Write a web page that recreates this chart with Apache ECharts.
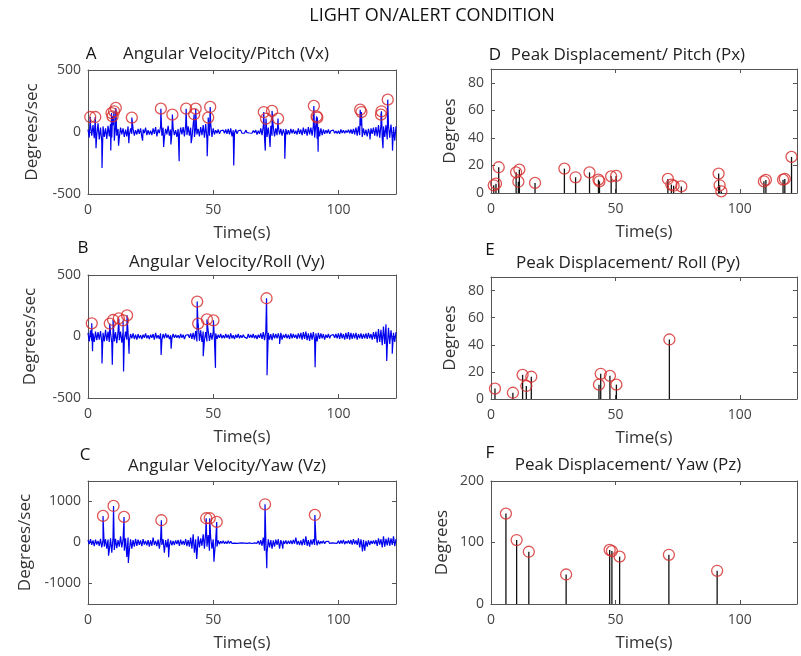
<!DOCTYPE html>
<html>
<head>
<meta charset="utf-8">
<script src="https://cdn.jsdelivr.net/npm/echarts@6/dist/echarts.min.js"></script>
<style>
  html, body { margin: 0; background: #fff; }
  #chart { width: 801px; height: 656px; }
</style>
</head>
<body>
<div id="chart"></div>
<script>
// sampling step of the traced velocity signals (s)
const STEP = 0.5;
const T_MAX = 123;

// Vx (pitch) background signal, one value per 0.5 s
const vxBase = [
  20,-45,60,-30,55,-50,40,-25,70,-60,
  35,-80,45,-40,30,-55,50,-35,65,-45,
  55,-70,40,-30,25,-45,35,-20,30,-40,
  20,-35,45,-25,30,-15,25,-30,15,-20,
  25,-15,30,-40,20,-10,35,-25,15,-20,
  10,-25,30,-15,40,-35,20,-10,45,-30,
  35,-45,25,-20,50,-30,20,-15,30,-25,
  15,-40,25,-30,35,-20,40,-35,55,-25,
  45,-30,35,-50,60,-40,30,-20,25,-35,
  40,-25,55,-45,65,-60,50,-30,70,-40,
  30,-20,15,-10,20,-15,10,-5,15,-10,
  20,-15,25,-20,30,-35,15,-10,20,-15,
  10,-5,15,-10,5,-10,15,-5,10,-8,
  8,-10,12,-5,15,-20,10,-15,30,-25,
  45,-50,60,-40,35,-55,50,-30,40,-35,
  30,-25,45,-20,25,-30,20,-15,25,-20,
  15,-20,25,-10,20,-15,10,-20,30,-15,
  20,-25,35,-15,25,-30,40,-20,35,-30,
  50,-45,60,-55,40,-35,30,-25,20,-15,
  15,-10,20,-15,10,-5,15,-10,8,-12,
  10,-15,20,-8,15,-10,12,-5,18,-10,
  20,-15,25,-20,35,-30,45,-25,50,-40,
  30,-25,20,-35,25,-20,30,-15,35,-30,
  40,-35,55,-45,60,-50,45,-40,55,-60,
  50,-45,60,-55,40,-70,45
];
const vxPeakT = [0.9, 2.9, 9.4, 9.8, 10.4, 11.1, 17.5, 29.1, 33.7, 39.2, 42.4, 43.0, 48.0, 48.8, 70.2, 71.1, 73.5, 75.9, 90.2, 91.3, 91.6, 108.7, 109.2, 117.0, 117.2, 119.7];
const vxPeakV = [121, 121, 153, 126, 167, 194, 116, 188, 140, 188, 143, 188, 116, 202, 161, 108, 170, 108, 210, 126, 116, 180, 161, 140, 167, 261];
const vxDipT = [3.2, 5.6, 9.1, 12.2, 16.3, 21.8, 30.2, 33.1, 36.4, 41.2, 47.6, 58.2, 70.8, 72.7, 78.6, 91.9, 112.6, 117.8, 121.6];
const vxDipV = [-130, -290, -150, -110, -90, -70, -120, -100, -235, -90, -195, -270, -150, -120, -215, -160, -60, -130, -150];

// Vy (roll)
const vyBase = [
  30,-40,50,-35,25,-45,40,-30,35,-25,
  45,-50,30,-40,55,-35,40,-45,30,-50,
  50,-40,35,-55,45,-30,40,-50,35,-30,
  40,-25,30,-35,20,-15,25,-20,15,-25,
  20,-15,10,-20,15,-10,25,-15,10,-20,
  15,-10,20,-25,30,-15,10,-20,25,-30,
  20,-15,25,-10,15,-20,10,-15,20,-10,
  15,-10,10,-15,20,-10,15,-20,10,-5,
  15,-10,25,-20,30,-25,45,-40,60,-35,
  50,-45,40,-30,35,-40,45,-35,30,-25,
  35,-30,25,-20,15,-10,20,-15,10,-15,
  20,-10,15,-20,25,-15,10,-20,15,-10,
  20,-15,10,-10,15,-5,10,-15,20,-10,
  15,-10,20,-15,10,-20,15,-10,25,-20,
  35,-30,40,-35,30,-25,20,-30,25,-15,
  20,-15,25,-20,30,-25,15,-10,20,-15,
  15,-20,25,-15,20,-10,15,-20,25,-15,
  30,-25,35,-20,40,-30,25,-35,30,-25,
  35,-30,25,-40,30,-20,25,-15,20,-25,
  15,-10,20,-15,10,-5,15,-10,20,-15,
  25,-20,30,-15,20,-25,30,-20,35,-25,
  30,-20,25,-15,30,-25,20,-15,25,-20,
  20,-15,25,-20,30,-15,20,-25,35,-20,
  40,-50,60,-45,55,-70,80,-60,100,-90,
  70,-60,50,-40,30,-45,35
];
const vyPeakT = [1.5, 8.7, 10.0, 12.3, 14.0, 15.6, 43.6, 44.0, 47.5, 50.1, 71.3];
const vyPeakV = [107, 105, 134, 147, 131, 172, 284, 105, 139, 131, 311];
const vyDipT = [1.8, 5.6, 9.7, 14.2, 16.4, 29.2, 33.2, 46.0, 50.9, 71.5, 76.5, 90.7, 119.3, 121.5];
const vyDipV = [-120, -220, -230, -285, -140, -150, -100, -160, -255, -315, -60, -250, -200, -140];

// Vz (yaw)
const vzBase = [
  60,-40,80,-60,50,-90,70,-50,40,-80,
  90,-120,60,-100,80,-150,70,-200,100,-250,
  120,-180,90,-140,60,-100,150,-120,80,-200,
  100,-350,120,-200,80,-150,60,-100,90,-80,
  70,-60,50,-90,80,-50,40,-70,60,-100,
  50,-80,120,-60,40,-90,70,-150,100,-60,
  80,-250,60,-120,90,-80,50,-70,40,-60,
  50,-40,60,-80,70,-50,40,-60,80,-90,
  60,-100,120,-150,200,-250,80,-350,150,-120,
  100,-80,200,-150,250,-100,180,-200,120,-150,
  80,-300,60,-100,50,-40,30,-20,40,-30,
  20,-30,40,-25,30,-20,25,-15,30,-20,
  20,-15,25,-10,20,-15,10,-20,15,-10,
  20,-25,15,-10,30,-20,40,-50,60,-80,
  120,-200,100,-250,80,-120,60,-150,50,-100,
  70,-60,80,-150,60,-50,40,-30,50,-40,
  40,-30,50,-40,60,-30,120,-50,40,-60,
  50,-70,90,-60,150,-80,60,-100,70,-50,
  80,-60,100,-70,50,-40,30,-20,40,-30,
  20,-15,30,-20,25,-10,20,-15,30,-20,
  40,-30,50,-25,60,-40,30,-20,50,-30,
  60,-50,80,-40,50,-60,100,-120,80,-150,
  60,-200,40,-100,50,-60,40,-30,50,-40,
  60,-80,100,-50,80,-120,150,-100,90,-70,
  120,-80,100,-60,150,-90,80
];
const vzPeakT = [6.0, 10.2, 14.4, 29.3, 47.2, 48.6, 51.4, 70.7, 90.6];
const vzPeakV = [648, 891, 624, 543, 591, 591, 502, 932, 672];
const vzDipT = [8.2, 16.1, 32.2, 43.4, 50.3, 71.4, 77.8, 109.6];
const vzDipV = [-320, -500, -360, -400, -470, -630, -150, -220];

// peak displacements (stems)
const pxT = [1.1, 2.0, 3.1, 10.1, 11.0, 11.4, 17.7, 29.5, 34.0, 39.6, 43.2, 43.6, 48.3, 50.3, 71.1, 72.5, 73.4, 76.5, 91.5, 91.9, 92.6, 109.7, 110.5, 117.4, 118.1, 120.8];
const pxV = [5.6, 6.8, 18.7, 15, 8.2, 17, 7.3, 17.7, 11.4, 15, 9.7, 8.5, 12.1, 12.4, 10.2, 6.1, 5.3, 4.8, 14.1, 5.6, 1.2, 8.5, 9.5, 9.7, 10.2, 26.2];
const pyT = [1.6, 8.8, 12.7, 14.2, 16.2, 43.4, 44.1, 47.8, 50.4, 71.7];
const pyV = [7.7, 4.6, 17.8, 9.6, 16.4, 10.6, 18.6, 17.1, 10.6, 43.9];
const pzT = [6.0, 10.3, 15.2, 30.2, 47.7, 48.6, 51.7, 71.5, 90.9];
const pzV = [147, 104, 85, 48, 88, 86, 77, 80, 54];

const FONT = 'Open Sans';
const AXIS_COLOR = '#555';

function pairs(ts, vs) {
  return ts.map((t, i) => [t, vs[i]]);
}
function trace(base, peakT, peakV, dipT, dipV) {
  const pts = base.map((v, i) => [i * STEP, v]);
  return pts.concat(pairs(peakT, peakV), pairs(dipT, dipV)).sort((a, b) => a[0] - b[0]);
}

const axisLine = { show: true, onZero: false, lineStyle: { color: AXIS_COLOR, width: 1 } };
const axisTick = { show: true, inside: true, length: 4, lineStyle: { color: AXIS_COLOR } };
const tickFont = { color: '#444', fontSize: 14, fontFamily: FONT, formatter: v => String(v) };
const nameFont = { color: '#333', fontSize: 17, fontFamily: FONT };

function xAxes(gi, gap) {
  const common = { type: 'value', gridIndex: gi, min: 0, max: T_MAX, interval: 50, splitLine: { show: false }, axisLine, axisTick };
  return [
    { ...common, position: 'bottom', name: 'Time(s)', nameLocation: 'middle', nameGap: gap, nameTextStyle: nameFont,
      axisLabel: { ...tickFont, margin: 9, showMaxLabel: false } },
    { ...common, position: 'top', axisLabel: { show: false } }
  ];
}
function yAxes(gi, min, max, interval, name, gap, custom) {
  const common = { type: 'value', gridIndex: gi, min, max, interval, splitLine: { show: false }, axisLine,
    axisTick: custom ? { ...axisTick, customValues: custom } : axisTick };
  return [
    { ...common, position: 'left', name, nameLocation: 'middle', nameGap: gap, nameTextStyle: nameFont,
      axisLabel: { ...tickFont, margin: 7, showMaxLabel: max % interval === 0, customValues: custom } },
    { ...common, position: 'right', axisLabel: { show: false } }
  ];
}

function circles(gi, data) {
  return {
    type: 'scatter', xAxisIndex: gi * 2, yAxisIndex: gi * 2, data,
    symbol: 'circle', symbolSize: 11, z: 4,
    itemStyle: { color: 'rgba(0,0,0,0)', borderColor: '#d62a2a', borderWidth: 1.3 }
  };
}
function signal(gi, data) {
  return {
    type: 'line', xAxisIndex: gi * 2, yAxisIndex: gi * 2, data,
    showSymbol: false, z: 2, lineStyle: { color: '#0000f0', width: 1.2 }
  };
}
function stems(gi, data) {
  return {
    type: 'bar', xAxisIndex: gi * 2, yAxisIndex: gi * 2, data,
    barWidth: 1.3, z: 2, itemStyle: { color: '#111' }
  };
}

function label(text, x, y, size, color) {
  return { type: 'text', x, y, style: { text, fill: color, font: `${size}px "${FONT}"`, textAlign: 'center', textVerticalAlign: 'middle' } };
}

const chart = echarts.init(document.getElementById('chart'));
chart.setOption({
  animation: false,
  backgroundColor: '#fff',
  grid: [
    { left: 88, top: 70, width: 308, height: 124 },
    { left: 88, top: 275, width: 308, height: 123 },
    { left: 88, top: 481, width: 308, height: 123 },
    { left: 491, top: 69, width: 306, height: 124 },
    { left: 491, top: 277, width: 306, height: 122 },
    { left: 491, top: 481, width: 306, height: 123 }
  ].map(g => ({ ...g, outerBoundsMode: 'none' })),
  xAxis: [
    ...xAxes(0, 31), ...xAxes(1, 31), ...xAxes(2, 31),
    ...xAxes(3, 31), ...xAxes(4, 31), ...xAxes(5, 31)
  ],
  yAxis: [
    ...yAxes(0, -500, 500, 500, 'Degrees/sec', 47),
    ...yAxes(1, -500, 500, 500, 'Degrees/sec', 49),
    ...yAxes(2, -1500, 1500, 500, 'Degrees/sec', 54, [-1000, 0, 1000]),
    ...yAxes(3, 0, 90, 20, 'Degrees', 32),
    ...yAxes(4, 0, 90, 20, 'Degrees', 32),
    ...yAxes(5, 0, 200, 100, 'Degrees', 40)
  ],
  graphic: [
    label('LIGHT ON/ALERT CONDITION', 432, 16, 18, '#111'),
    label('A', 91, 54, 17, '#111'),
    label('Angular Velocity/Pitch (Vx)', 226, 54, 17, '#222'),
    label('B', 83, 248, 17, '#111'),
    label('Angular Velocity/Roll (Vy)', 227, 262, 17, '#222'),
    label('C', 85, 455, 17, '#111'),
    label('Angular Velocity/Yaw (Vz)', 227, 466, 17, '#222'),
    label('D', 495, 55, 17, '#111'),
    label('Peak Displacement/ Pitch (Px)', 628, 55, 17, '#222'),
    label('E', 490, 250, 17, '#111'),
    label('Peak Displacement/ Roll (Py)', 628, 263, 17, '#222'),
    label('F', 490, 453, 17, '#111'),
    label('Peak Displacement/ Yaw (Pz)', 628, 465, 17, '#222')
  ],
  series: [
    signal(0, trace(vxBase, vxPeakT, vxPeakV, vxDipT, vxDipV)),
    circles(0, pairs(vxPeakT, vxPeakV)),
    signal(1, trace(vyBase, vyPeakT, vyPeakV, vyDipT, vyDipV)),
    circles(1, pairs(vyPeakT, vyPeakV)),
    signal(2, trace(vzBase, vzPeakT, vzPeakV, vzDipT, vzDipV)),
    circles(2, pairs(vzPeakT, vzPeakV)),
    stems(3, pairs(pxT, pxV)),
    circles(3, pairs(pxT, pxV)),
    stems(4, pairs(pyT, pyV)),
    circles(4, pairs(pyT, pyV)),
    stems(5, pairs(pzT, pzV)),
    circles(5, pairs(pzT, pzV))
  ]
});
</script>
</body>
</html>
